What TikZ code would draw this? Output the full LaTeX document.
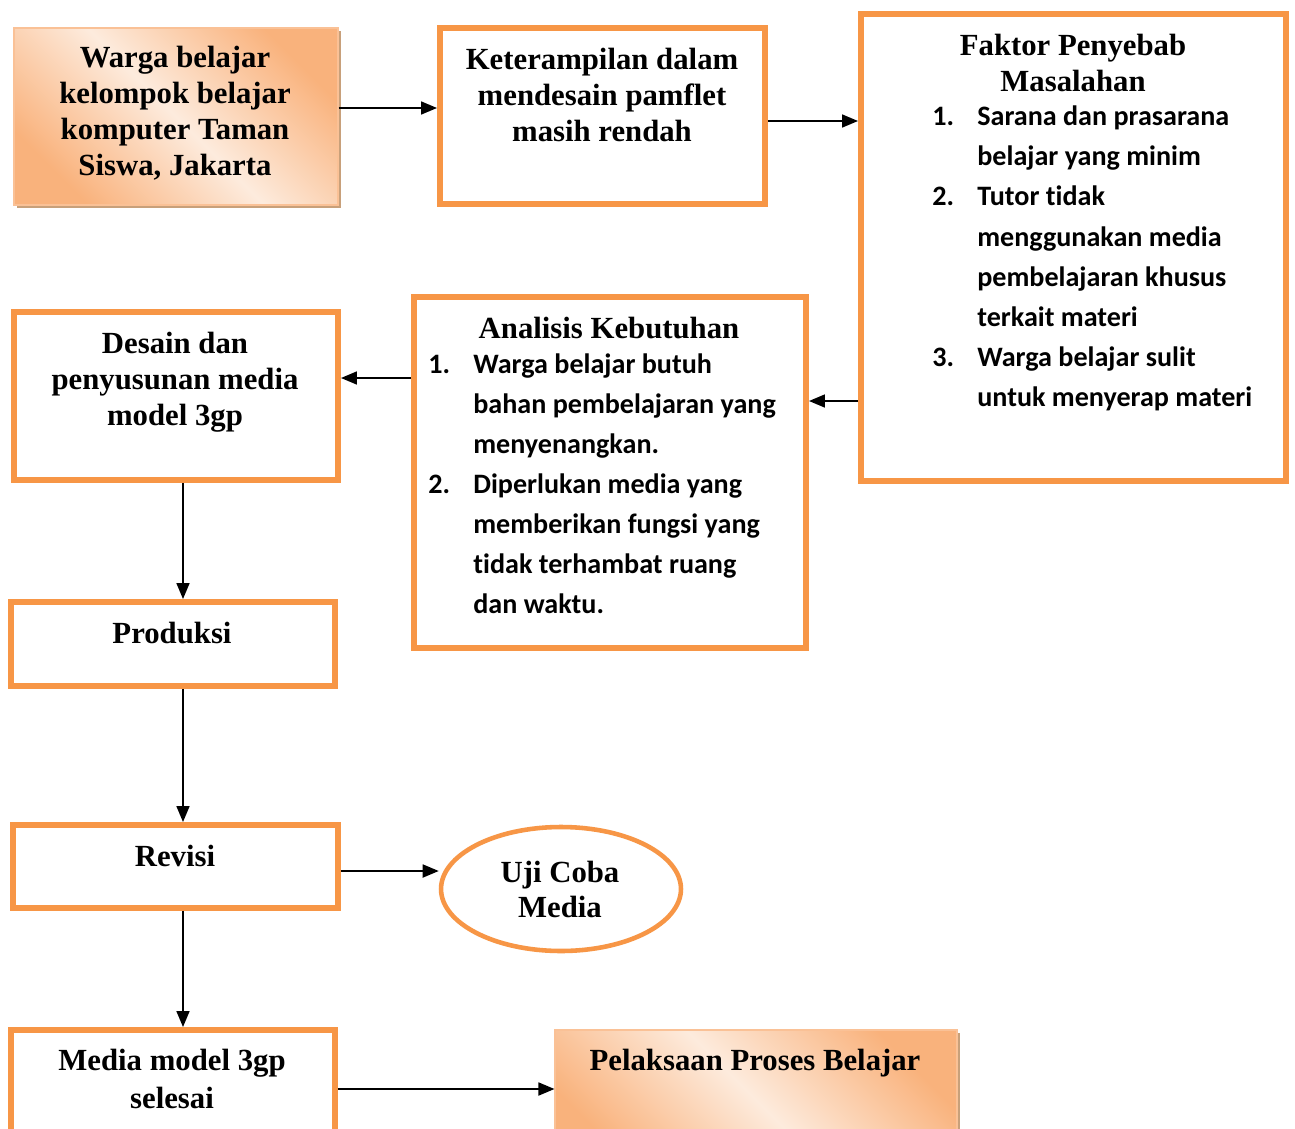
\documentclass[tikz,border=0pt]{standalone}
\usepackage{fontspec}
\setmainfont{Liberation Serif}
\newfontfamily\calfont[Ligatures=NoCommon]{Carlito}
\usetikzlibrary{fit,arrows.meta,shapes.geometric,shadows}
\definecolor{oborder}{HTML}{F79646}
\definecolor{pdark}{HTML}{F9B27C}
\definecolor{plight}{HTML}{FDEBDD}
\definecolor{pshadow}{HTML}{C8A07A}
\pgfdeclarehorizontalshading{peach}{100bp}{color(0bp)=(pdark); color(25bp)=(pdark); color(50bp)=(plight); color(75bp)=(pdark); color(100bp)=(pdark)}
\tikzset{
  obox/.style={draw=oborder, line width=3.4pt, inner sep=0pt},
  gbox/.style={shading=peach, shading angle=45, draw=pdark!80, line width=0.6pt, inner sep=0pt,
    drop shadow={shadow xshift=1.6pt, shadow yshift=-1.6pt, fill=pshadow, opacity=1}},
  ttl/.style={font=\fontsize{17.5}{20.4}\selectfont\bfseries, inner sep=0pt, anchor=base},
  lst/.style={font=\calfont\fontsize{16}{22.7}\selectfont\bfseries, inner sep=0pt, anchor=base west},
  arr/.style={-{Triangle[length=0.32cm,width=0.26cm]}, line width=1pt},
}
\begin{document}
\begin{tikzpicture}[x=0.02cm, y=-0.02cm]
\useasboundingbox (0,0) rectangle (1295,1129);
\clip (0,0) rectangle (1295,1129);
\fill[white] (0,0) rectangle (1295,1129);
% boxes
\node[gbox, fit={(14,28) (338,205)}] (a) {};
\node[obox, fit={(440,28) (765,204)}] (b) {};
\node[obox, fit={(861,14) (1286,481)}] (c) {};
\node[obox, fit={(414,297) (806,648)}] (d) {};
\node[obox, fit={(14,312) (338,480)}] (e) {};
\node[obox, fit={(11,602) (335,686)}] (p) {};
\node[obox, fit={(13,825) (338,908)}] (r) {};
\node[ellipse, draw=oborder, line width=2.6pt, minimum width=4.8cm, minimum height=2.48cm, inner sep=0pt] (u) at (561,889) {};
\node[obox, fit={(11,1030) (335,1170)}] (m) {};
\node[gbox, fit={(555,1030) (957,1170)}] (g) {};
% texts box a
\node[ttl] (a1) at (175,67) {Warga belajar};
\node[ttl] (a2) at (175,103) {kelompok belajar};
\node[ttl] (a3) at (175,139) {komputer Taman};
\node[ttl] (a4) at (175,175) {Siswa, Jakarta};
% box b
\node[ttl] (b1) at (602,69) {Keterampilan dalam};
\node[ttl] (b2) at (602,105) {mendesain pamflet};
\node[ttl] (b3) at (602,141) {masih rendah};
% box c
\node[ttl] (c1) at (1073,55) {Faktor Penyebab};
\node[ttl] (c2) at (1073,91) {Masalahan};
\node[lst] (cn1) at (932,125) {1.};
\node[lst] (cn2) at (932,205) {2.};
\node[lst] (cn3) at (932,366) {3.};
\node[lst] (ct1) at (977,125) {Sarana dan prasarana};
\node[lst] (ct2) at (977,165) {belajar yang minim};
\node[lst] (ct3) at (977,205) {Tutor tidak};
\node[lst] (ct4) at (977,246) {menggunakan media};
\node[lst] (ct5) at (977,286) {pembelajaran khusus};
\node[lst] (ct6) at (977,326) {terkait materi};
\node[lst] (ct7) at (977,366) {Warga belajar sulit};
\node[lst] (ct8) at (977,406) {untuk menyerap materi};
% box d
\node[ttl] (d1) at (609,338) {Analisis Kebutuhan};
\node[lst] (dn1) at (428,373) {1.};
\node[lst] (dn2) at (428,493) {2.};
\node[lst] (dt1) at (473,373) {Warga belajar butuh};
\node[lst] (dt2) at (473,413) {bahan pembelajaran yang};
\node[lst] (dt3) at (473,453) {menyenangkan.};
\node[lst] (dt4) at (473,493) {Diperlukan media yang};
\node[lst] (dt5) at (473,533) {memberikan fungsi yang};
\node[lst] (dt6) at (473,573) {tidak terhambat ruang};
\node[lst] (dt7) at (473,613) {dan waktu.};
% box e
\node[ttl] (e1) at (175,353) {Desain dan};
\node[ttl] (e2) at (175,389) {penyusunan media};
\node[ttl] (e3) at (175,425) {model 3gp};
% others
\node[ttl] (p1) at (172,643) {Produksi};
\node[ttl] (r1) at (175,866) {Revisi};
\node[ttl] (u1) at (560,882) {Uji Coba};
\node[ttl] (u2) at (560,917) {Media};
\node[ttl] (m1) at (172,1070) {Media model 3gp};
\node[ttl] (m2) at (172,1108) {selesai};
\node[ttl] (g1) at (755,1070) {Pelaksaan Proses Belajar};
% helper coordinates
\coordinate (y108) at (0,108);
\coordinate (y121) at (0,121);
\coordinate (y401) at (0,401);
\coordinate (y378) at (0,378);
\coordinate (y871) at (0,871);
\coordinate (y1089) at (0,1089);
\coordinate (x183) at (183,0);
% arrows
\draw[arr] (a.east |- y108) -- (b.west |- y108);
\draw[arr] (b.east |- y121) -- (c.west |- y121);
\draw[arr] (c.west |- y401) -- (d.east |- y401);
\draw[arr] (d.west |- y378) -- (e.east |- y378);
\draw[arr] (e.south -| x183) -- (p.north -| x183);
\draw[arr] (p.south -| x183) -- (r.north -| x183);
\draw[arr] (r.east |- y871) -- (u.west |- y871);
\draw[arr] (r.south -| x183) -- (m.north -| x183);
\draw[arr] (m.east |- y1089) -- (g.west |- y1089);
\end{tikzpicture}
\end{document}
